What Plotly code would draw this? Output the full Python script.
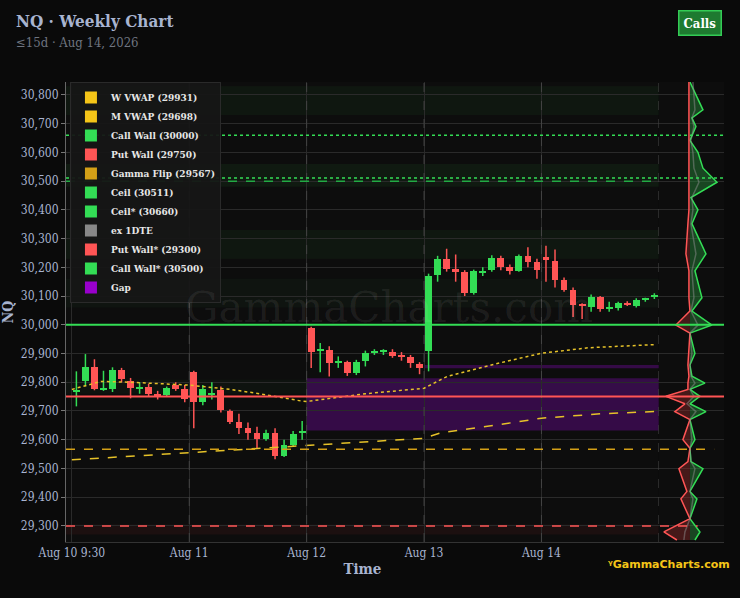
import plotly.graph_objects as go

# ---- data ----
bar_x = [d + (i + 0.5) / 13 for d in range(5) for i in range(13)]
opens = [29770,29803,29852,29776,29776,29842,29806,29780,29783,29758,29755,29790,29778,
         29835,29730,29760,29772,29700,29660,29642,29625,29604,29625,29545,29580,29625,
         29989,29912,29912,29870,29870,29831,29874,29905,29908,29905,29891,29887,29863,
         29908,30174,30230,30195,30185,30111,30183,30192,30234,30202,30188,30240,30220,
         30237,30223,30157,30122,30072,30062,30097,30057,30059,30075,30066,30088,30095]
closes = [29772,29852,29776,29778,29842,29810,29779,29782,29758,29748,29780,29775,29740,
          29730,29775,29762,29702,29660,29642,29622,29604,29625,29545,29580,29620,29632,
          29905,29914,29866,29872,29831,29870,29902,29907,29911,29891,29889,29866,29849,
          30171,30230,30195,30185,30111,30188,30186,30234,30202,30188,30240,30220,30192,
          30227,30157,30122,30069,30069,30097,30055,30060,30076,30073,30087,30090,30104]
highs = [29838,29898,29880,29840,29852,29850,29815,29800,29795,29770,29785,29800,29790,
         29840,29790,29800,29785,29705,29690,29660,29645,29635,29640,29600,29630,29665,
         29993,29937,29925,29890,29875,29878,29910,29915,29915,29915,29905,29895,29870,
         30178,30240,30265,30245,30190,30192,30200,30242,30240,30210,30245,30270,30230,
         30275,30262,30165,30130,30075,30105,30100,30080,30080,30082,30092,30094,30110]
lows = [29716,29786,29772,29770,29766,29800,29744,29760,29750,29740,29752,29770,29730,
        29640,29720,29740,29695,29655,29620,29600,29570,29596,29532,29540,29575,29600,
        29850,29835,29820,29850,29822,29825,29855,29895,29895,29885,29875,29850,29828,
        29838,30150,30185,30150,30100,30105,30170,30185,30190,30175,30185,30200,30160,
        30150,30130,30115,30027,30020,30045,30045,30045,30050,30065,30060,30080,30090]

wvwap_x = [0,0.25,0.5,1,1.35,1.6,1.95,2,2.5,3,3.2,3.6,4,4.4,4.96]
wvwap_y = [29775,29803,29800,29790,29775,29760,29735,29733,29760,29779,29821,29863,29901,29920,29931]
mvwap_x = [0,1,2,3,3.15,3.6,4,4.5,4.96]
mvwap_y = [29530,29555,29580,29605,29625,29650,29675,29690,29698]

prof_y = [30845,30748,30720,30690,30642,30600,30545,30496,30443,30400,30352,30247,30188,30094,30048,
          29999,29971,29900,29860,29821,29797,29775,29751,29725,29698,29670,29600,29570,29524,29499,
          29420,29394,29325,29279,29251]
call_v = [0,13,2,6,0,8,13,27,1,8,2,16,5,12,2,22,0,5,0,2,15,0,10,0,16,0,5,0,1,13,0,7,0,10,5]
put_v = [-1,-1,-1,-1,-1,-1,-1,-1,-1,-1,-2,-4,-1,-1,0,-14,0,-1,-2,-1,-2,-2,-24,-5,-15,0,-7,0,-2,-11,
         -3,-9,0,-26,-13]
ex_v = [3,5,2,4,1,3,4,9,2,3,1,6,2,4,1,8,0,2,0,1,5,0,4,-3,6,0,2,0,1,5,0,3,0,-5,-6]

day_labels = ["Aug 10 9:30", "Aug 11", "Aug 12", "Aug 13", "Aug 14"]
levels = [("W VWAP (29931)", "#f5c518"), ("M VWAP (29698)", "#f5c518"), ("Call Wall (30000)", "#33dd55"),
          ("Put Wall (29750)", "#ff5555"), ("Gamma Flip (29567)", "#d4a017"), ("Ceil (30511)", "#33dd55"),
          ("Ceil* (30660)", "#33dd55"), ("ex 1DTE", "#888888"), ("Put Wall* (29300)", "#ff5555"),
          ("Call Wall* (30500)", "#33dd55"), ("Gap", "#9900cc")]

UP, DN = "#33dd55", "#ff5555"
fig = go.Figure()
for up in (True, False):
    idx = [i for i in range(len(opens)) if (closes[i] >= opens[i]) == up]
    col = UP if up else DN
    wx, wy = [], []
    for i in idx:
        wx += [bar_x[i], bar_x[i], None]
        wy += [lows[i], highs[i], None]
    fig.add_trace(go.Scatter(x=wx, y=wy, mode="lines", line=dict(color=col, width=1.5),
                             showlegend=False, hoverinfo="skip"))
    base, hgt = [], []
    for i in idx:
        b, d = min(opens[i], closes[i]), abs(closes[i] - opens[i])
        if d < 4:
            b -= (4 - d) / 2
            d = 4
        base.append(b)
        hgt.append(d)
    fig.add_trace(go.Bar(x=[bar_x[i] for i in idx], y=hgt, base=base, width=0.058,
                         marker=dict(color=col, line_width=0), showlegend=False, hoverinfo="skip"))

fig.add_trace(go.Scatter(x=wvwap_x, y=wvwap_y, mode="lines", line=dict(color="#e6c229", width=1.5, dash="dot"), showlegend=False))
fig.add_trace(go.Scatter(x=mvwap_x, y=mvwap_y, mode="lines", line=dict(color="#e6c229", width=1.5, dash="dash"), showlegend=False))

fig.add_trace(go.Scatter(x=call_v, y=prof_y, xaxis="x2", mode="lines", fill="tozerox",
    fillcolor="rgba(40,140,60,0.45)", line=dict(color="#33dd55", width=1.5), showlegend=False))
fig.add_trace(go.Scatter(x=put_v, y=prof_y, xaxis="x2", mode="lines", fill="tozerox",
    fillcolor="rgba(140,40,40,0.45)", line=dict(color="#ff5555", width=1.5), showlegend=False))
fig.add_trace(go.Scatter(x=ex_v, y=prof_y, xaxis="x2", mode="lines",
    line=dict(color="rgba(140,140,140,0.5)", width=1.5), showlegend=False))

for name, col in levels:
    fig.add_trace(go.Scatter(x=[None], y=[None], mode="markers", name="<b>" + name + "</b>",
        marker=dict(symbol="square", size=8, color=col)))

shapes = []
for y0, y1, c in [(30730, 30830, "rgba(40,120,50,0.10)"), (30480, 30560, "rgba(40,120,50,0.12)"),
                  (30230, 30330, "rgba(40,120,50,0.10)"), (30060, 30160, "rgba(40,120,50,0.07)"),
                  (29760, 29810, "rgba(40,120,50,0.06)"), (29270, 29305, "rgba(140,40,40,0.12)")]:
    shapes.append(dict(type="rect", xref="x", yref="y", x0=-0.05, x1=5, y0=y0, y1=y1, fillcolor=c, line_width=0, layer="below"))
shapes.append(dict(type="rect", xref="x", yref="y", x0=2, x1=5, y0=29632, y1=29814, fillcolor="rgba(80,10,110,0.6)", line_width=0, layer="below"))
shapes.append(dict(type="rect", xref="x", yref="y", x0=3, x1=5, y0=29849, y1=29860, fillcolor="rgba(80,10,110,0.6)", line_width=0, layer="below"))
for d in [1, 2, 3, 4, 5]:
    shapes.append(dict(type="line", xref="x", yref="paper", x0=d, x1=d, y0=0, y1=1, line=dict(color="#444", width=1, dash="dash")))
def hl(y, col, dash, x1=1.0, w=1.5):
    shapes.append(dict(type="line", xref="paper", yref="y", x0=0, x1=x1, y0=y, y1=y, line=dict(color=col, width=w, dash=dash)))
hl(30000, "#33dd55", "solid", 1.0, 2)
hl(29750, "#ff5555", "solid", 1.0, 2)
hl(29567, "#d4a017", "dash", 0.985)
hl(30511, "#33dd55", "dot", 1.0)
hl(30660, "#33dd55", "dot", 1.0)
hl(30500, "#22aa44", "dash", 0.9)
hl(29300, "#ff5555", "dash", 0.96)

fig.update_layout(
    width=740, height=598, paper_bgcolor="#0a0a0a", plot_bgcolor="#0d0d0d",
    margin=dict(l=66, r=16, t=82, b=56, autoexpand=False),
    font=dict(family="DejaVu Serif Condensed", color="#a8b4d0", size=11),
    shapes=shapes, bargap=0, barmode="overlay",
    xaxis=dict(domain=[0, 0.901], range=[-0.05, 5], tickvals=[0, 1, 2, 3, 4], ticktext=day_labels,
               showgrid=True, gridcolor="#2a2a2a", zeroline=False, automargin=False,
               ticks="", tickfont=dict(size=12, color="#a8b4d0"),
               title=dict(text="<b>Time</b>", font=dict(size=15, color="#a8b4d0"), standoff=4),
               showline=True, linecolor="#333"),
    xaxis2=dict(domain=[0.901, 1], range=[-31, 34], showgrid=False, zeroline=False, showticklabels=False,
                showline=True, linecolor="#333", automargin=False),
    yaxis=dict(range=[29244, 30845], dtick=100, tickformat=",", showgrid=True, gridcolor="#2a2a2a",
               zeroline=False, ticks="outside", ticklen=4, tickcolor="#777", tickfont=dict(size=12, color="#a8b4d0"),
               title=dict(text="<b>NQ</b>", font=dict(size=14, color="#a8b4d0"), standoff=6),
               showline=True, linecolor="#666", linewidth=1, automargin=False),
    legend=dict(x=0.006, y=1.0, xanchor="left", yanchor="top", bgcolor="rgba(22,22,22,0.95)",
                bordercolor="#2a2a2a", borderwidth=1, font=dict(family="DejaVu Serif Condensed", size=10, color="#e6e6e6"),
                itemsizing="constant", tracegroupgap=0, itemwidth=30),
    annotations=[
        dict(text="<b>NQ · Weekly Chart</b>", xref="paper", yref="paper", x=-0.079, y=1.132, xanchor="left", yanchor="middle",
             showarrow=False, font=dict(size=17, color="#a8b4d0")),
        dict(text="≤15d · Aug 14, 2026", xref="paper", yref="paper", x=-0.079, y=1.086, xanchor="left", yanchor="middle",
             showarrow=False, font=dict(size=13, color="#6f7580")),
        dict(text="<b>Calls</b>", xref="paper", yref="paper", x=0.997, y=1.128, xanchor="right", yanchor="middle",
             showarrow=False, bgcolor="#1e7a30", bordercolor="#33cc55", borderwidth=1.5, borderpad=4,
             font=dict(size=13, color="#ffffff")),
        dict(text="GammaCharts.com", xref="x", yref="y", x=2.7, y=30060, showarrow=False,
             font=dict(family="DejaVu Serif", size=42, color="rgba(255,255,255,0.07)")),
        dict(text="<b>ᵞGammaCharts.com</b>", xref="paper", yref="paper", x=1.012, y=-0.048, xanchor="right", yanchor="middle",
             showarrow=False, font=dict(family="DejaVu Sans", size=11, color="#f5c518")),
    ],
)
fig.write_html("out.html", config={"displayModeBar": False},
               post_script="document.body.style.margin='0';document.body.style.background='#0a0a0a';")
